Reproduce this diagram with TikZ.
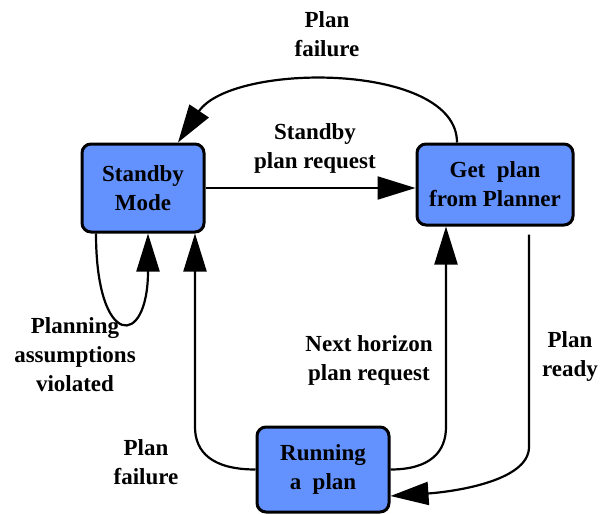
\documentclass[tikz,border=0pt]{standalone}
\usepackage{fontspec}
\setmainfont{Liberation Serif}
\usetikzlibrary{arrows.meta}
\definecolor{boxblue}{RGB}{99,146,255}
\tikzset{
  box/.style={draw=black, line width=3pt, rounded corners=9pt, fill=boxblue, align=center, inner sep=0pt},
  arr/.style={line width=2.2pt, -{Triangle[length=38pt,width=23pt]}},
  plain/.style={line width=2.2pt},
  lbl/.style={align=center, inner sep=0pt},
}
\begin{document}
\begin{tikzpicture}[x=1pt,y=-1pt,font=\fontsize{23}{29}\selectfont\bfseries]
\useasboundingbox (0,0) rectangle (600,514);
\node[box, minimum width=122pt, minimum height=88pt] (sb) at (143,188) {Standby\\Mode};
\node[box, minimum width=156pt, minimum height=81pt] (gp) at (495,184.5) {Get\ \ plan\\from Planner};
\node[box, minimum width=132pt, minimum height=85pt] (run) at (323,469.5) {Running\\a\ \ plan};

% labels
\node[lbl] (l1) at (327,34) {Plan\\failure};
\node[lbl] (l2) at (315,148) {Standby\\plan request};
\node[lbl] (l3) at (75,355) {Planning\\assumptions\\violated};
\node[lbl] (l4) at (146,462) {Plan\\failure};
\node[lbl] (l5) at (369,360) {Next horizon\\plan request};
\node[lbl] (l6) at (570,356) {Plan\\ready};

% connectors
\draw[arr] (sb.east) -- (sb.east -| gp.west);
\draw[arr] ([xshift=-38pt]gp.north) .. controls (457,62) and (232,62) .. ([xshift=35pt]sb.north);
\draw[arr] ([xshift=-47pt]sb.south) .. controls (96,349) and (148,349) .. ([xshift=5pt]sb.south);
\draw[arr] (run.west) .. controls (212,469.5) and (195,452) .. (195,427) -- ([xshift=52pt]sb.south);
\draw[arr] (run.east) .. controls (430,469.5) and (446,452) .. (446,427) -- ([xshift=-49pt]gp.south);
\draw[arr, shorten <=8pt] ([xshift=34pt]gp.south) -- (529,447) .. controls (529,482) and (450,492) .. ([yshift=-26.5pt]run.east);
\end{tikzpicture}
\end{document}
